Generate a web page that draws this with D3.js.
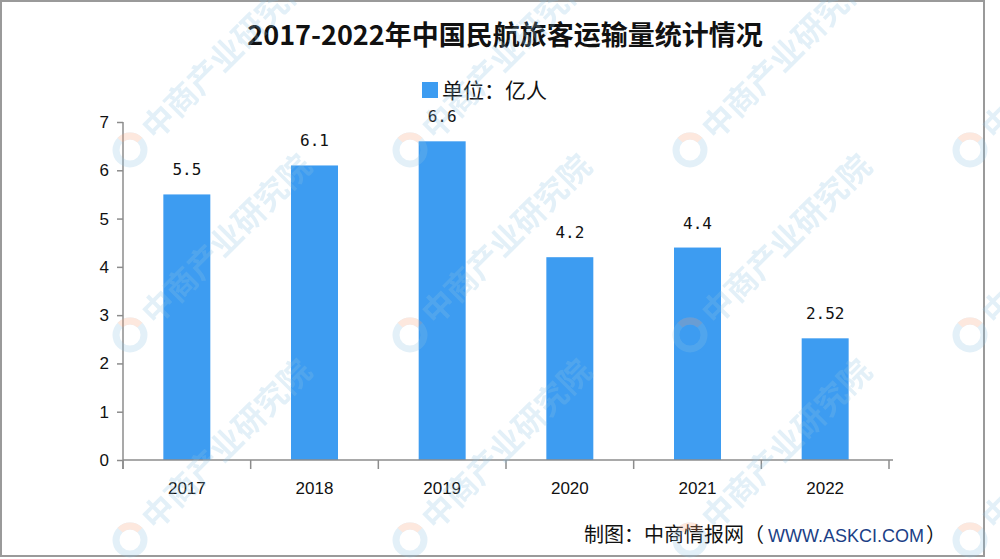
<!DOCTYPE html>
<html><head><meta charset="utf-8">
<script src="https://cdn.jsdelivr.net/npm/d3@7/dist/d3.min.js"></script>
<style>body{margin:0;background:#fff}svg{display:block}</style>
</head><body>
<svg id="c" width="1000" height="559"></svg>
<script>
const categories = ["2017","2018","2019","2020","2021","2022"];
const values = [5.5, 6.1, 6.6, 4.2, 4.4, 2.52];
const valueLabels = ["5.5","6.1","6.6","4.2","4.4","2.52"];
const yTicks = [0,1,2,3,4,5,6,7];
const title = "2017-2022年中国民航旅客运输量统计情况";
const legendLabel = "单位：亿人";

const svg = d3.select("#c");
const pLeft = 123, pRight = 889, pTop = 122, pBottom = 460;
const barColor = "#3d9cf1";

svg.append("rect").attr("x",1).attr("y",1).attr("width",983).attr("height",555)
  .attr("fill","#fff").attr("stroke","#9a9a9a").attr("stroke-width",2);

const x = d3.scaleBand().domain(categories).range([pLeft, pRight]).paddingInner(0.632).paddingOuter(0.316);
const y = d3.scaleLinear().domain([0,7]).range([pBottom, pTop]);

// bars
svg.append("g").selectAll("rect").data(values).join("rect")
  .attr("x",(d,i)=>x(categories[i])).attr("y",d=>y(d))
  .attr("width",x.bandwidth()).attr("height",d=>y(0)-y(d)).attr("fill",barColor);

// value labels
svg.append("g").selectAll("text").data(values).join("text")
  .attr("x",(d,i)=>x(categories[i])+x.bandwidth()/2)
  .attr("y",d=>y(d)-19)
  .attr("text-anchor","middle")
  .attr("font-family","'DejaVu Sans Mono', 'Liberation Mono', monospace")
  .attr("font-size",16).attr("fill","#111")
  .text((d,i)=>valueLabels[i]);

// y axis
const ya = svg.append("g").attr("transform",`translate(${pLeft},0)`)
  .call(d3.axisLeft(y).tickValues(yTicks).tickSize(6).tickPadding(8).tickFormat(d3.format("d")));
ya.select(".domain").remove();
ya.append("line").attr("x1",0).attr("x2",0).attr("y1",pTop).attr("y2",pBottom+9).attr("stroke","#8c8c8c").attr("stroke-width",1.5);
ya.selectAll(".tick line").attr("stroke","#8c8c8c").attr("stroke-width",1.5);
ya.selectAll(".tick text").attr("font-family","'Liberation Sans', Arial, sans-serif").attr("font-size",17).attr("fill","#111");

// x axis
const xa = svg.append("g").attr("transform",`translate(0,${pBottom})`)
  .call(d3.axisBottom(x).tickSize(0).tickPadding(22));
xa.select(".domain").remove();
xa.append("line").attr("x1",pLeft).attr("x2",pRight+4).attr("y1",0).attr("y2",0).attr("stroke","#8c8c8c").attr("stroke-width",1.5);
const bounds = categories.map(c=>x(c)-x.step()*x.paddingInner()/2).concat([pRight]);
xa.selectAll(".bnd").data(bounds).join("line").attr("class","bnd")
  .attr("x1",d=>d).attr("x2",d=>d).attr("y1",0).attr("y2",9).attr("stroke","#8c8c8c").attr("stroke-width",1.5);
xa.selectAll(".tick text").attr("font-family","'Liberation Sans', Arial, sans-serif").attr("font-size",17).attr("fill","#111");

// title
svg.append("text").attr("x",505).attr("y",45).attr("text-anchor","middle")
  .attr("font-family","'Noto Sans CJK SC', sans-serif").attr("font-weight","bold")
  .attr("font-size",27).attr("fill","#111").text(title);

// legend
svg.append("rect").attr("x",422).attr("y",82).attr("width",16).attr("height",16).attr("fill",barColor);
svg.append("text").attr("x",442).attr("y",98)
  .attr("font-family","'Noto Sans CJK SC', sans-serif").attr("font-size",21).attr("fill","#111")
  .text(legendLabel);

// footer
const ft = svg.append("text").attr("x",584).attr("y",542)
  .attr("font-family","'Noto Sans CJK SC', sans-serif").attr("font-size",20).attr("fill","#111");
ft.append("tspan").text("制图：中商情报网（");
ft.append("tspan").attr("fill","#1b3f86").attr("font-family","'Liberation Sans', Arial, sans-serif").attr("font-size",18).attr("dx",4).text("WWW.ASKCI.COM");
ft.append("tspan").attr("dx",2).text("）");

// watermark
const wmPos = [];
[130,410,690,970].forEach(px=>[150,335,540].forEach(py=>wmPos.push([px,py])));
const wm = svg.append("g").attr("opacity",0.25).style("pointer-events","none");
wmPos.forEach(([px,py])=>{
  const g = wm.append("g").attr("transform",`translate(${px},${py}) rotate(-45)`);
  g.append("circle").attr("r",14).attr("fill","none").attr("stroke","#8ec3e2").attr("stroke-width",7);
  g.append("path").attr("d","M0,-14 A14,14 0 0 1 14,0").attr("fill","none").attr("stroke","#f4a07a").attr("stroke-width",7);
  g.append("text").attr("x",24).attr("y",12).attr("font-family","'Noto Sans CJK SC', sans-serif")
    .attr("font-size",32).attr("font-weight","bold").attr("fill","#8ec3e2").text("中商产业研究院");
});
</script>
</body></html>
